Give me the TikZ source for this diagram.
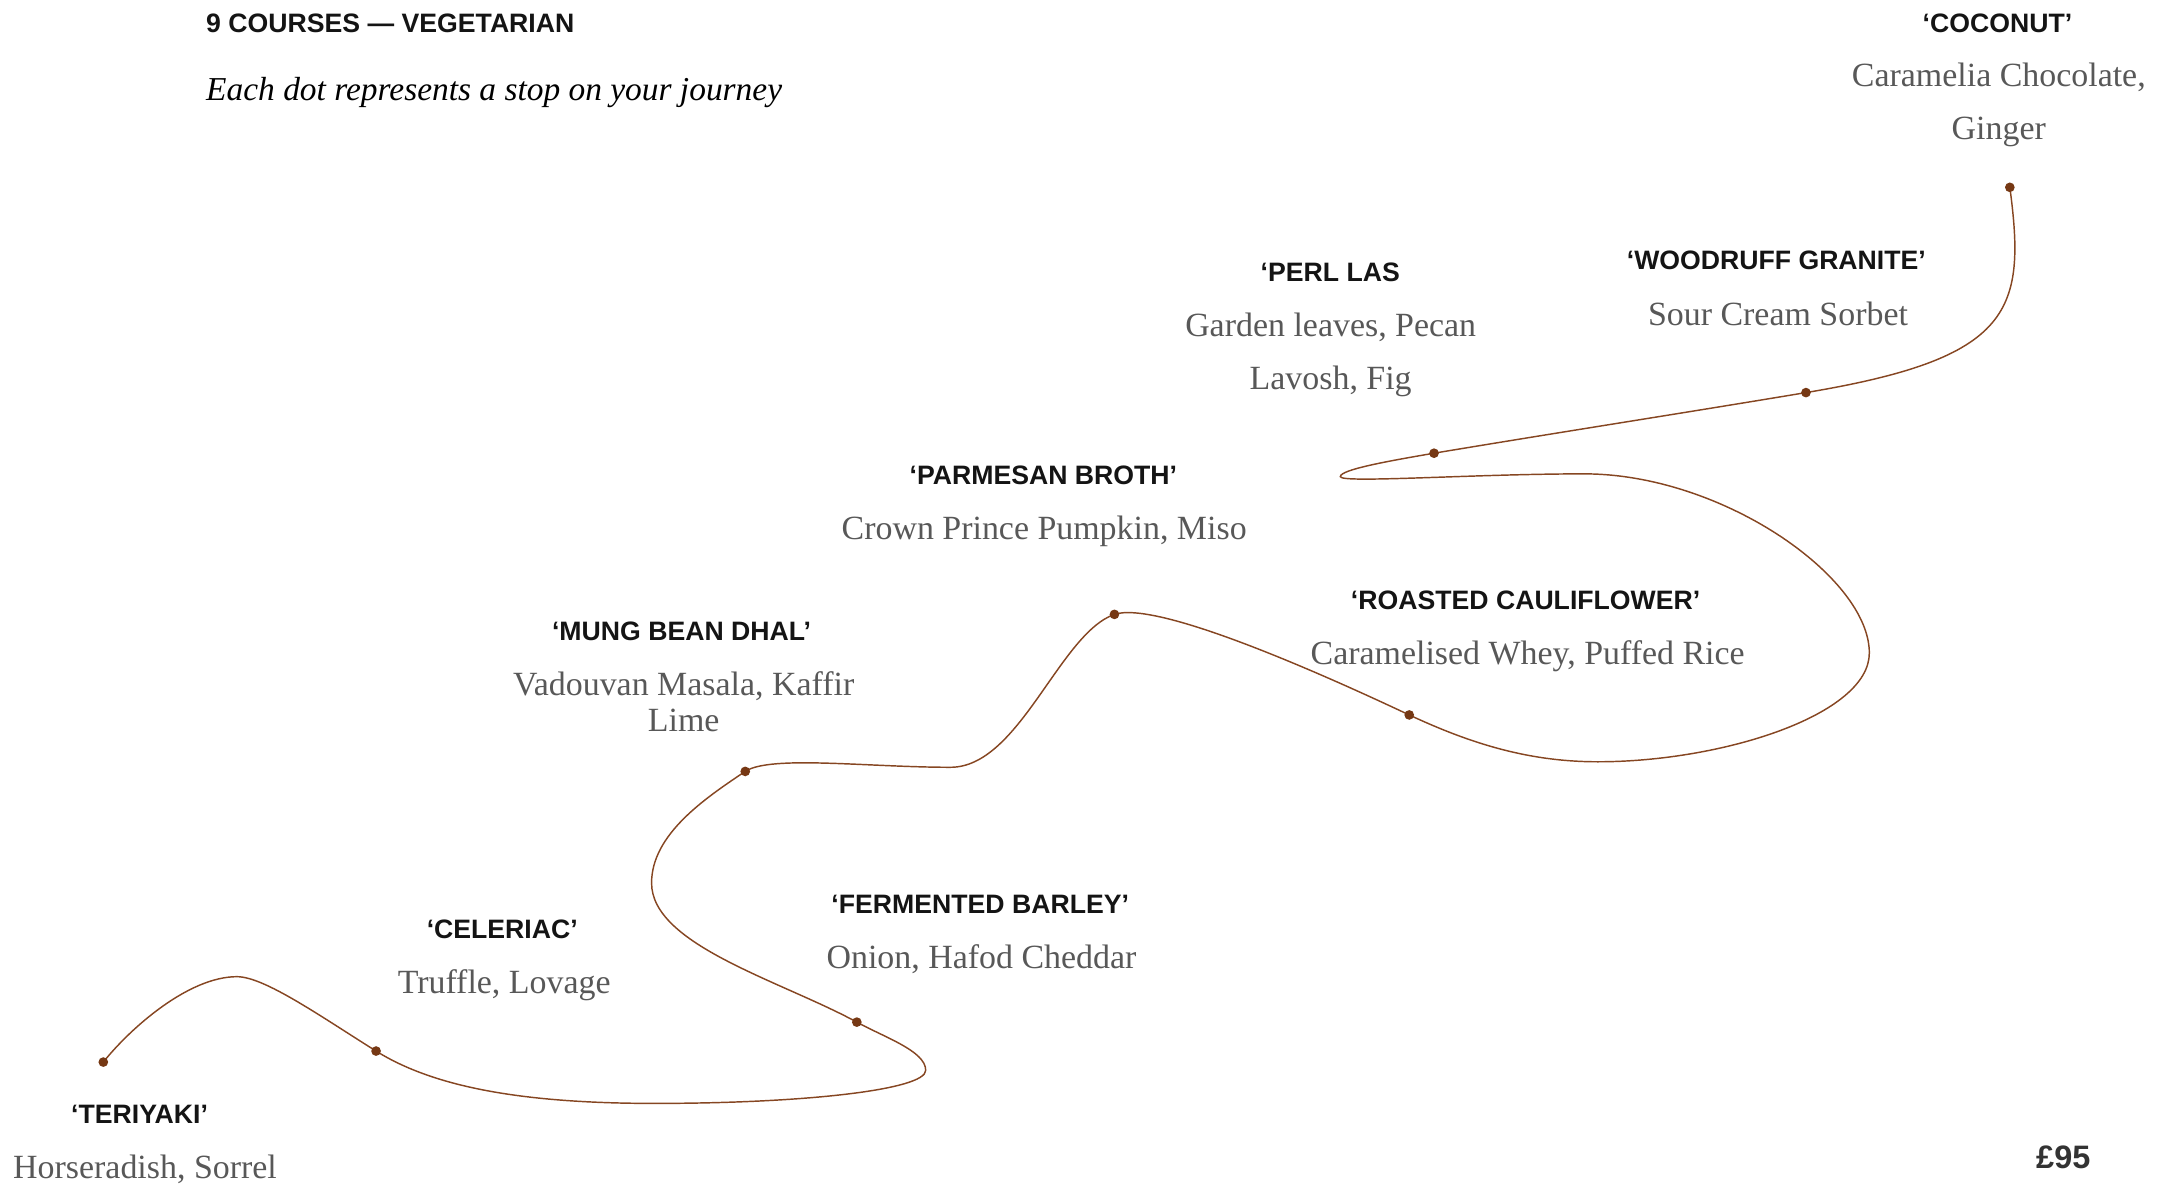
\documentclass[tikz,border=0pt]{standalone}
\usepackage{fontspec}
\setmainfont{Liberation Serif}
\newfontfamily\labelfont{Liberation Sans}
\usetikzlibrary{positioning}

\definecolor{routebrown}{RGB}{134,70,34}
\definecolor{dotbrown}{RGB}{118,56,20}
\definecolor{notegray}{RGB}{88,88,88}

\begin{document}
\begin{tikzpicture}[
        x=0.01cm, y=-0.01cm,
        course/.style={font=\labelfont\bfseries\fontsize{5.5}{6.6}\selectfont, text=black!92, anchor=base, inner sep=0pt},
        dishes/.style={font=\fontsize{7}{10.8}\selectfont, text=notegray, align=center, anchor=base, inner sep=0pt},
        stop/.style={circle, fill=dotbrown, inner sep=0pt, minimum size=2pt},
        route/.style={draw=routebrown, line width=0.3pt}
    ]
    \useasboundingbox (0,0) rectangle (1568,861);

    % Header
    \node[course, anchor=base west] (title) at (149,23.7) {9 COURSES — VEGETARIAN};
    \node[dishes, anchor=base west, font=\itshape\fontsize{6.9}{8.3}\selectfont, text=black] (subtitle) at (149,72.6) {Each dot represents a stop on your journey};

    % Courses (multi-line notes sit on the baseline of their last line)
    \node[course] (coconut) at (1450,23.7) {‘COCONUT’};
    \node[dishes] (coconutd) at (1451,101.1) {Caramelia Chocolate,\\Ginger};
    \node[course] (woodruff) at (1289.5,196) {‘WOODRUFF GRANITE’};
    \node[dishes] (woodruffd) at (1290.7,236) {Sour Cream Sorbet};
    \node[course] (perllas) at (965.7,204.5) {‘PERL LAS};
    \node[dishes] (perllasd) at (966,282.6) {Garden leaves, Pecan\\Lavosh, Fig};
    \node[course] (parmesan) at (757.4,352) {‘PARMESAN BROTH’};
    \node[dishes] (parmesand) at (758,392) {Crown Prince Pumpkin, Miso};
    \node[course] (cauli) at (1107.5,442.8) {‘ROASTED CAULIFLOWER’};
    \node[dishes] (caulid) at (1109,482.7) {Caramelised Whey, Puffed Rice};
    \node[course] (mung) at (494.8,465) {‘MUNG BEAN DHAL’};
    \node[dishes, font=\fontsize{7}{7.4}\selectfont] (mungd) at (496.3,531) {Vadouvan Masala, Kaffir\\Lime};
    \node[course] (barley) at (711.6,663) {‘FERMENTED BARLEY’};
    \node[dishes] (barleyd) at (712.5,703) {Onion, Hafod Cheddar};
    \node[course] (celeriac) at (364.6,681) {‘CELERIAC’};
    \node[dishes] (celeriacd) at (366,721) {Truffle, Lovage};
    \node[course] (teriyaki) at (101.3,815.4) {‘TERIYAKI’};
    \node[dishes] (teriyakid) at (105.3,855.4) {Horseradish, Sorrel};
    \node[course, font=\labelfont\bfseries\fontsize{6.7}{8}\selectfont, text=black!80] (price) at (1497.8,848) {£95};

    % Route
    \foreach \n/\x/\y in {d1/75/771, d2/273/763, d3/622/742, d4/541/560, d5/809/446,
            d6/1023/519, d7/1041/329, d8/1311/285, d9/1459/136,
            p1/172/709, p2/475/801, p3/672/777, p4/473/641, p5/690/557,
            p6/1160/553, p7/1357/474, p8/1150/344, p9/973/346}
        \coordinate (\n) at (\x,\y);

    \draw[route] (d1) .. controls +(20,-25) and +(-35,0) .. (p1)
        .. controls +(20,0) and +(-40,-25) .. (d2)
        .. controls +(40,25) and +(-100,0) .. (p2)
        .. controls +(110,0) and +(0,14) .. (p3)
        .. controls +(0,-14) and +(20,11) .. (d3)
        .. controls +(-55,-30) and +(0,45) .. (p4)
        .. controls +(0,-35) and +(-30,20) .. (d4)
        .. controls +(18,-12) and +(-60,0) .. (p5)
        .. controls +(50,0) and +(-40,14) .. (d5)
        .. controls +(30,-10) and +(-70,-33) .. (d6)
        .. controls +(45,21) and +(-50,0) .. (p6)
        .. controls +(90,0) and +(0,45) .. (p7)
        .. controls +(0,-55) and +(100,0) .. (p8)
        .. controls +(-80,0) and +(0,5) .. (p9)
        .. controls +(0,-5) and +(-35,6) .. (d7)
        .. controls +(90,-15) and +(-90,15) .. (d8)
        .. controls +(150,-25) and +(12,90) .. (d9);

    \foreach \n in {d1,d2,d3,d4,d5,d6,d7,d8,d9}
        \node[stop] at (\n) {};
\end{tikzpicture}
\end{document}
